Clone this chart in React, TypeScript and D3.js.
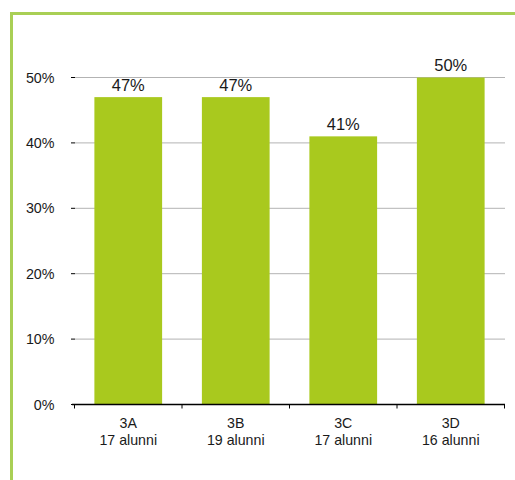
import React from "react";
import * as d3 from "d3";

const categories = ["3A", "3B", "3C", "3D"];
const subLabels = ["17 alunni", "19 alunni", "17 alunni", "16 alunni"];
const values = [0.47, 0.47, 0.41, 0.5];
const yTicks = [0, 0.1, 0.2, 0.3, 0.4, 0.5];

export default function App() {
  const W = 515, H = 480;
  const x0 = 74.5, x1 = 504.5, yTop = 77.5, yBot = 404.5;
  const x = d3.scaleBand<string>().domain(categories).range([x0, x1]).paddingInner(0.37).paddingOuter(0.185);
  const xb = d3.scaleBand<string>().domain(categories).range([x0, x1]);
  const y = d3.scaleLinear().domain([0, 0.5]).range([yBot, yTop]);
  const font = "'Liberation Sans', Arial, Helvetica, sans-serif";
  const fmt = d3.format(".0%");
  return (
    <svg width={W} height={H} style={{ position: "absolute", left: 0, top: 0 }} fontFamily={font}>
      <rect x={0} y={0} width={W} height={H} fill="#fff" />
      <path d={`M11.5,${H + 5} L11.5,13.5 L${W + 5},13.5`} fill="none" stroke="#a9cf55" strokeWidth={3} />
      {yTicks.map((t) => (
        <g key={t}>
          {t > 0 && <line x1={75} x2={505} y1={y(t)} y2={y(t)} stroke="#b3b3b3" strokeWidth={1} />}
          <line x1={71} x2={75} y1={y(t)} y2={y(t)} stroke="#000" strokeWidth={1} />
          <text x={54.5} y={y(t)} dy="0.35em" textAnchor="end" fontSize={14.3} fill="#1a1a1a">{fmt(t)}</text>
        </g>
      ))}
      {categories.map((c, i) => (
        <g key={c}>
          <rect x={x(c)} y={y(values[i])} width={x.bandwidth()} height={yBot - y(values[i])} fill="#a9c91e" />
          <text x={x(c)! + x.bandwidth() / 2} y={y(values[i]) - 6.5} textAnchor="middle" fontSize={16.5} fill="#1a1a1a">{fmt(values[i])}</text>
          <text x={xb(c)! + xb.bandwidth() / 2} y={428.3} textAnchor="middle" fontSize={14.2} fill="#1a1a1a">{c}</text>
          <text x={xb(c)! + xb.bandwidth() / 2} y={445} textAnchor="middle" fontSize={14.2} fill="#1a1a1a">{subLabels[i]}</text>
        </g>
      ))}
      <line x1={72} x2={505} y1={yBot} y2={yBot} stroke="#000" strokeWidth={1.5} />
      {[...categories.map((c) => xb(c)!), x1].map((v, i) => (
        <line key={i} x1={v} x2={v} y1={yBot} y2={yBot + 4} stroke="#000" strokeWidth={1} />
      ))}
    </svg>
  );
}
